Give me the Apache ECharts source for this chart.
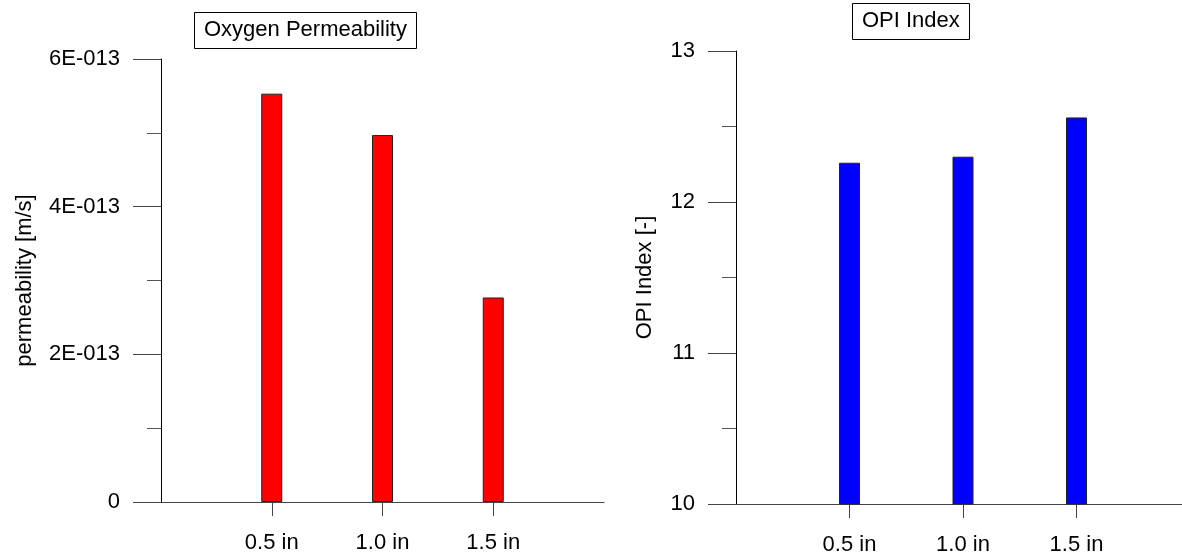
<!DOCTYPE html>
<html>
<head>
<meta charset="utf-8">
<script src="https://cdn.jsdelivr.net/npm/echarts@6/dist/echarts.min.js"></script>
<style>
  html, body { margin: 0; padding: 0; background: #fff; }
  #chart { width: 1182px; height: 559px; }
</style>
</head>
<body>
<div id="chart"></div>
<script>
// ---- data ----
const categories = ['0.5 in', '1.0 in', '1.5 in'];
const permeability = [5.53e-13, 4.97e-13, 2.77e-13];   // m/s
const opiIndex = [12.26, 12.30, 12.56];                // [-]
const permTickLabels = ['0', '2E-013', '4E-013', '6E-013'];
const opiTickLabels = ['10', '11', '12', '13'];

const FONT = 'Liberation Sans, Arial, Helvetica, sans-serif';
const FS = 22;

// category slots: an empty slot on either side of the three categories
const axisCats = [''].concat(categories, ['']);
const permData = [null].concat(permeability, [null]);
const opiData = [null].concat(opiIndex, [null]);

const chart = echarts.init(document.getElementById('chart'), null, { renderer: 'canvas' });

function xAxisCfg(gridIndex) {
  return {
    type: 'category',
    gridIndex: gridIndex,
    data: axisCats,
    boundaryGap: false,
    axisLine: { show: true, lineStyle: { color: '#444', width: 1 } },
    axisTick: {
      show: true, length: 14, inside: false,
      interval: function (idx, val) { return val !== ''; },
      lineStyle: { color: '#444', width: 1 }
    },
    axisLabel: {
      show: true, margin: 30, color: '#000', fontSize: FS, fontFamily: FONT,
      interval: 0
    },
    splitLine: { show: false }
  };
}

function yAxisCfg(gridIndex, min, max, interval, labels, name, nameGap) {
  return {
    type: 'value',
    gridIndex: gridIndex,
    min: min, max: max, interval: interval,
    name: name,
    nameLocation: 'middle',
    nameGap: nameGap,
    nameRotate: 90,
    nameTextStyle: { color: '#000', fontSize: FS, fontFamily: FONT },
    axisLine: { show: true, lineStyle: { color: '#000', width: 1 } },
    axisTick: { show: true, length: 28, inside: false, lineStyle: { color: '#444', width: 1 } },
    minorTick: { show: true, splitNumber: 2, length: 14, lineStyle: { color: '#555', width: 1 } },
    axisLabel: {
      show: true, margin: 41, color: '#000', fontSize: FS, fontFamily: FONT,
      formatter: function (v, i) { return labels[i]; }
    },
    splitLine: { show: false },
    minorSplitLine: { show: false }
  };
}

const option = {
  animation: false,
  backgroundColor: '#fff',
  title: [
    {
      text: 'Oxygen Permeability',
      left: 194, top: 12,
      borderColor: '#000', borderWidth: 1,
      padding: [7, 10, 8, 10],
      textStyle: { color: '#000', fontSize: FS, fontWeight: 'normal', fontFamily: FONT }
    },
    {
      text: 'OPI Index',
      left: 852, top: 3,
      borderColor: '#000', borderWidth: 1,
      padding: [7, 10, 8, 10],
      textStyle: { color: '#000', fontSize: FS, fontWeight: 'normal', fontFamily: FONT }
    }
  ],
  grid: [
    { left: 161, top: 59, width: 443, height: 443, outerBoundsMode: 'none', containLabel: false },
    { left: 736, top: 51, width: 454, height: 453, outerBoundsMode: 'none', containLabel: false }
  ],
  xAxis: [xAxisCfg(0), xAxisCfg(1)],
  yAxis: [
    yAxisCfg(0, 0, 6e-13, 2e-13, permTickLabels, 'permeability [m/s]', 125),
    yAxisCfg(1, 10, 13, 1, opiTickLabels, 'OPI Index [-]', 80)
  ],
  series: [
    {
      type: 'bar', xAxisIndex: 0, yAxisIndex: 0,
      data: permData, barWidth: 21,
      itemStyle: { color: '#ff0000', borderColor: '#222', borderWidth: 1 }
    },
    {
      type: 'bar', xAxisIndex: 1, yAxisIndex: 1,
      data: opiData, barWidth: 21,
      itemStyle: { color: '#0000ff', borderColor: '#222', borderWidth: 1 }
    }
  ]
};

chart.setOption(option);
</script>
</body>
</html>
